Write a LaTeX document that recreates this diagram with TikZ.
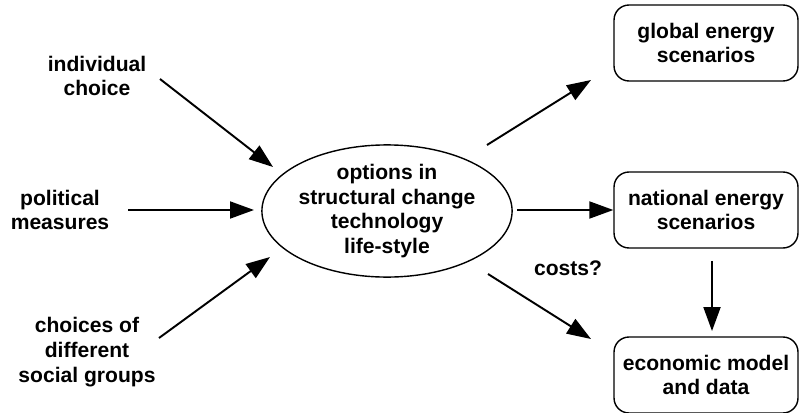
\documentclass[tikz,border=0pt]{standalone}
\usepackage{fontspec}
\setmainfont{Liberation Sans}
\usetikzlibrary{arrows.meta,shapes.geometric}
\begin{document}
\begin{tikzpicture}[x=0.02cm,y=-0.02cm,
    every node/.style={font=\bfseries\fontsize{12}{14}\selectfont,align=center},
    arr/.style={line width=1.1pt,-{Triangle[length=0.48cm,width=0.34cm]}},
    opt/.style={draw,line width=0.8pt,ellipse,minimum width=4.6cm,minimum height=2.56cm,inner sep=0pt},
    scen/.style={draw,line width=0.8pt,rounded corners=0.3cm,minimum width=3.68cm,minimum height=1.52cm,inner sep=0pt}]
   \useasboundingbox (0,0) rectangle (800,412);
   % driving forces
   \node (indiv) at (97,76) {individual\\choice};
   \node (polit) at (60,210) {political\\measures};
   \node (social) at (87,352) {choices of\\different\\social groups};
   % options
   \node [opt] (opts) at (387,211) {options in\\structural change\\technology\\life-style};
   % scenarios and models
   \node [scen] (global) at (706,43) {global energy\\scenarios};
   \node [scen] (national) at (706,210) {national energy\\scenarios};
   \node [scen] (econ) at (706,375) {economic model\\and data};
   \node (costs) at (568,268) {costs?};
   % arrow ends
   \coordinate (indiv-out) at (160,79);
   \coordinate (polit-out) at (128,210);
   \coordinate (social-out) at (159,338);
   \coordinate (opts-in1) at (273,167);
   \coordinate (opts-in2) at (254,210);
   \coordinate (opts-in3) at (270,257);
   \coordinate (opts-out1) at (487,145);
   \coordinate (opts-out2) at (517,210);
   \coordinate (opts-out3) at (488,274);
   \coordinate (global-in) at (591,80);
   \coordinate (econ-in) at (591,339);
   \draw [arr] (indiv-out) -- (opts-in1);
   \draw [arr] (polit-out) -- (opts-in2);
   \draw [arr] (social-out) -- (opts-in3);
   \draw [arr] (opts-out1) -- (global-in);
   \draw [arr] (opts-out2) -- (national.west);
   \draw [arr] (opts-out3) -- (econ-in);
   \draw [arr,shorten <=7pt,shorten >=3pt] (national.south -| 712,0) -- (econ.north -| 712,0);
\end{tikzpicture}
\end{document}
